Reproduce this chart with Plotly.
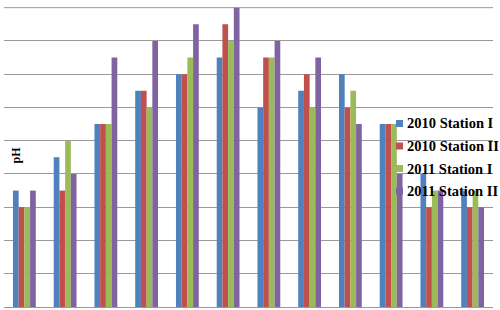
import plotly.graph_objects as go

months = ["Jan", "Feb", "Mar", "Apr", "May", "Jun", "Jul", "Aug", "Sep", "Oct", "Nov", "Dec"]
s2010_I = [3.5, 4.5, 5.5, 6.5, 7.0, 7.5, 6.0, 6.5, 7.0, 5.5, 4.0, 3.5]
s2010_II = [3.0, 3.5, 5.5, 6.5, 7.0, 8.5, 7.5, 7.0, 6.0, 5.5, 3.0, 3.0]
s2011_I = [3.0, 5.0, 5.5, 6.0, 7.5, 8.0, 7.5, 6.0, 6.5, 5.5, 3.5, 3.5]
s2011_II = [3.5, 4.0, 7.5, 8.0, 8.5, 9.0, 8.0, 7.5, 5.5, 4.0, 3.5, 3.0]
series_names = ["2010 Station I", "2010 Station II", "2011 Station I", "2011 Station II"]
series_vals = [s2010_I, s2010_II, s2011_I, s2011_II]
colors = ["#4F81BD", "#C0504D", "#9BBB59", "#8064A2"]
y_max = 9

W, H = 500, 310
ML, MR, MT, MB = 4, 7, 7, 3
PW, PH = W - ML - MR, H - MT - MB
GRID = "#9a9a9a"


def px(x):
    return (x - ML) / PW


def py(y):
    return (H - MB - y) / PH


fig = go.Figure()
for name, vals, col in zip(series_names, series_vals, colors):
    fig.add_trace(go.Bar(x=months, y=vals, name=name, showlegend=False,
                         marker=dict(color=col, line=dict(width=0))))

annotations = [dict(text="<b>pH</b>", xref="paper", yref="paper", x=px(15.5), y=py(155),
                    xanchor="center", yanchor="middle", textangle=-90, showarrow=False,
                    font=dict(family="Liberation Serif", size=12, color="black"))]
shapes = [dict(type="line", xref="paper", yref="y", x0=0, x1=1, y0=y_max, y1=y_max,
               line=dict(color=GRID, width=1), layer="below")]
leg_y = [123.5, 146, 168.5, 191]
for name, col, ly in zip(series_names, colors, leg_y):
    shapes.append(dict(type="rect", xref="paper", yref="paper", x0=px(396), x1=px(403),
                       y0=py(ly + 3.5), y1=py(ly - 3.5), fillcolor=col, line=dict(width=0)))
    annotations.append(dict(text="<b>" + name + "</b>", xref="paper", yref="paper",
                            x=px(405), y=py(ly), xanchor="left", yanchor="middle",
                            showarrow=False,
                            font=dict(family="Liberation Serif", size=14.5, color="black")))

fig.update_layout(
    width=W, height=H,
    margin=dict(l=ML, r=MR, t=MT, b=MB, autoexpand=False),
    barmode="group", bargap=0.44, bargroupgap=0,
    plot_bgcolor="white", paper_bgcolor="white",
    font=dict(family="Liberation Serif", color="black"),
    xaxis=dict(showticklabels=False, showgrid=False, showline=False, zeroline=False, ticks=""),
    yaxis=dict(range=[0, y_max + 0.02], dtick=1, showticklabels=False, showgrid=True, gridcolor=GRID,
               gridwidth=1, zeroline=True, zerolinecolor=GRID, zerolinewidth=1, ticks=""),
    showlegend=False,
    annotations=annotations,
    shapes=shapes,
)
fig.write_html("out.html", config={"displayModeBar": False},
               post_script="document.body.style.margin='0';document.body.style.overflow='hidden';")
